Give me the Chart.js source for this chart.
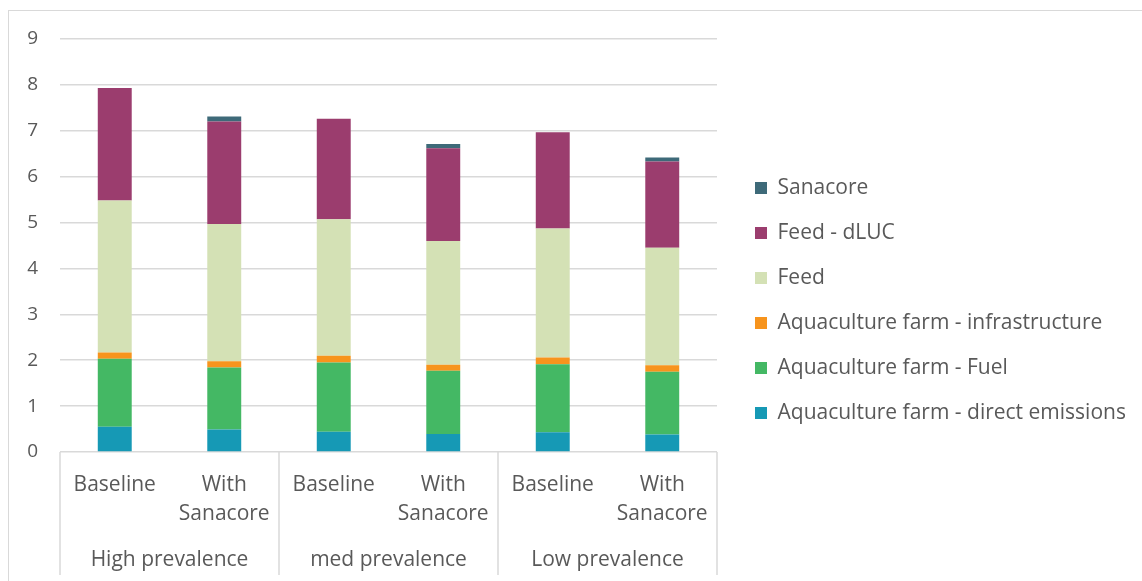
<!DOCTYPE html>
<html>
<head>
<meta charset="utf-8">
<script src="https://cdn.jsdelivr.net/npm/chart.js@4.4.1/dist/chart.umd.min.js"></script>
<style>
    html, body { margin: 0; padding: 0; background: #fff; }
    #frame {
        position: absolute;
        left: 8px;
        top: 10px;
        width: 1133px;
        height: 570px;
        border-top: 1px solid #d9d9d9;
        border-left: 1px solid #d9d9d9;
    }
</style>
</head>
<body>
<div id="frame"><canvas id="emissionsChart"></canvas></div>
<script>
/* ---------- data ---------- */

const subLabels = [['Baseline'], ['With', 'Sanacore'], ['Baseline'], ['With', 'Sanacore'], ['Baseline'], ['With', 'Sanacore']];
const groupLabels = ['High prevalence', 'med prevalence', 'Low prevalence'];
const yTicks = [0, 1, 2, 3, 4, 5, 6, 7, 8, 9];

const directEmissions = [0.55, 0.49, 0.44, 0.39, 0.43, 0.38];
const farmFuel = [1.48, 1.35, 1.51, 1.38, 1.48, 1.37];
const farmInfrastructure = [0.14, 0.14, 0.15, 0.13, 0.15, 0.14];
const feed = [3.31, 2.99, 2.97, 2.70, 2.81, 2.56];
const feedDLUC = [2.45, 2.23, 2.19, 2.02, 2.10, 1.88];
const sanacore = [0, 0.11, 0, 0.09, 0, 0.09];

/* ---------- style ---------- */

const TEXT = '#595959';
const GRID = '#d9d9d9';
const FONT = "'Open Sans', sans-serif";

/* ---------- plugins ---------- */

// widen legend so the plot stops where excel stops it, then nudge the items
const legendPlacement = {
    id: 'legendPlacement',
    beforeInit(chart) {
        const fit = chart.legend.fit;
        chart.legend.fit = function () {
            fit.call(this);
            this.width = 425;
        };
    },
    afterLayout(chart) {
        const lg = chart.legend;
        lg.left += 14;
        lg.right += 14;
        lg.top -= 6;
        lg.bottom -= 6;
    }
};

// vertical separators of the two-level category axis
const groupSeparators = {
    id: 'groupSeparators',
    afterDraw(chart) {
        const { ctx, chartArea } = chart;
        const x = chart.scales.x;
        const x2 = chart.scales.x2;
        const perGroup = subLabels.length / groupLabels.length;
        const lines = [x.left];
        for (let g = 1; g < groupLabels.length; g++) {
            const i = g * perGroup;
            lines.push((x.getPixelForValue(i - 1) + x.getPixelForValue(i)) / 2);
        }
        lines.push(x.right);

        ctx.save();
        ctx.strokeStyle = GRID;
        ctx.lineWidth = 1.5;
        lines.forEach(px => {
            ctx.beginPath();
            ctx.moveTo(px, chartArea.bottom);
            ctx.lineTo(px, x2.bottom + 1);
            ctx.stroke();
        });
        ctx.restore();
    }
};

/* ---------- chart ---------- */

function makeSet(label, data, color) {
    return {
        label: label,
        data: data,
        backgroundColor: color,
        borderWidth: 0,
        barPercentage: 0.31,
        categoryPercentage: 1
    };
}

new Chart(document.getElementById('emissionsChart'), {
    type: 'bar',
    data: {
        labels: subLabels,
        datasets: [
            makeSet('Aquaculture farm - direct emissions', directEmissions, '#1699b5'),
            makeSet('Aquaculture farm - Fuel', farmFuel, '#44b864'),
            makeSet('Aquaculture farm - infrastructure', farmInfrastructure, '#f7941d'),
            makeSet('Feed', feed, '#d4e1b5'),
            makeSet('Feed - dLUC', feedDLUC, '#9b3d6e'),
            makeSet('Sanacore', sanacore, '#3e6a79')
        ]
    },
    plugins: [legendPlacement, groupSeparators],
    options: {
        responsive: true,
        maintainAspectRatio: false,
        animation: false,
        layout: {
            padding: { top: 28, right: 0, bottom: 7, left: 0 }
        },
        plugins: {
            tooltip: { enabled: false },
            legend: {
                position: 'right',
                reverse: true,
                labels: {
                    boxWidth: 12,
                    boxHeight: 12,
                    padding: 24,
                    color: TEXT,
                    font: { family: FONT, size: 21 }
                }
            }
        },
        scales: {
            x: {
                stacked: true,
                offset: true,
                grid: { display: false, drawTicks: false },
                border: { display: false },
                ticks: {
                    color: TEXT,
                    padding: 18,
                    maxRotation: 0,
                    autoSkip: false,
                    font: { family: FONT, size: 21, lineHeight: 1.4 }
                },
                afterFit: s => { s.height = 85; }
            },
            x2: {
                type: 'category',
                position: 'bottom',
                labels: groupLabels,
                offset: true,
                grid: { display: false, drawTicks: false },
                border: { display: false },
                ticks: {
                    color: TEXT,
                    padding: 8,
                    maxRotation: 0,
                    autoSkip: false,
                    font: { family: FONT, size: 21, lineHeight: 1.4 }
                },
                afterFit: s => { s.height = 37; }
            },
            y: {
                stacked: true,
                min: 0,
                max: 9,
                grid: { color: GRID, lineWidth: 1.5, drawTicks: false },
                border: { display: false },
                afterBuildTicks: s => { s.ticks = yTicks.map(v => ({ value: v })); },
                ticks: {
                    color: TEXT,
                    padding: 22,
                    font: { family: FONT, size: 19 }
                },
                afterFit: s => {
                    s.width = 51;
                    s.paddingTop = 0;
                    s.paddingBottom = 0;
                }
            }
        }
    }
});
</script>
</body>
</html>
